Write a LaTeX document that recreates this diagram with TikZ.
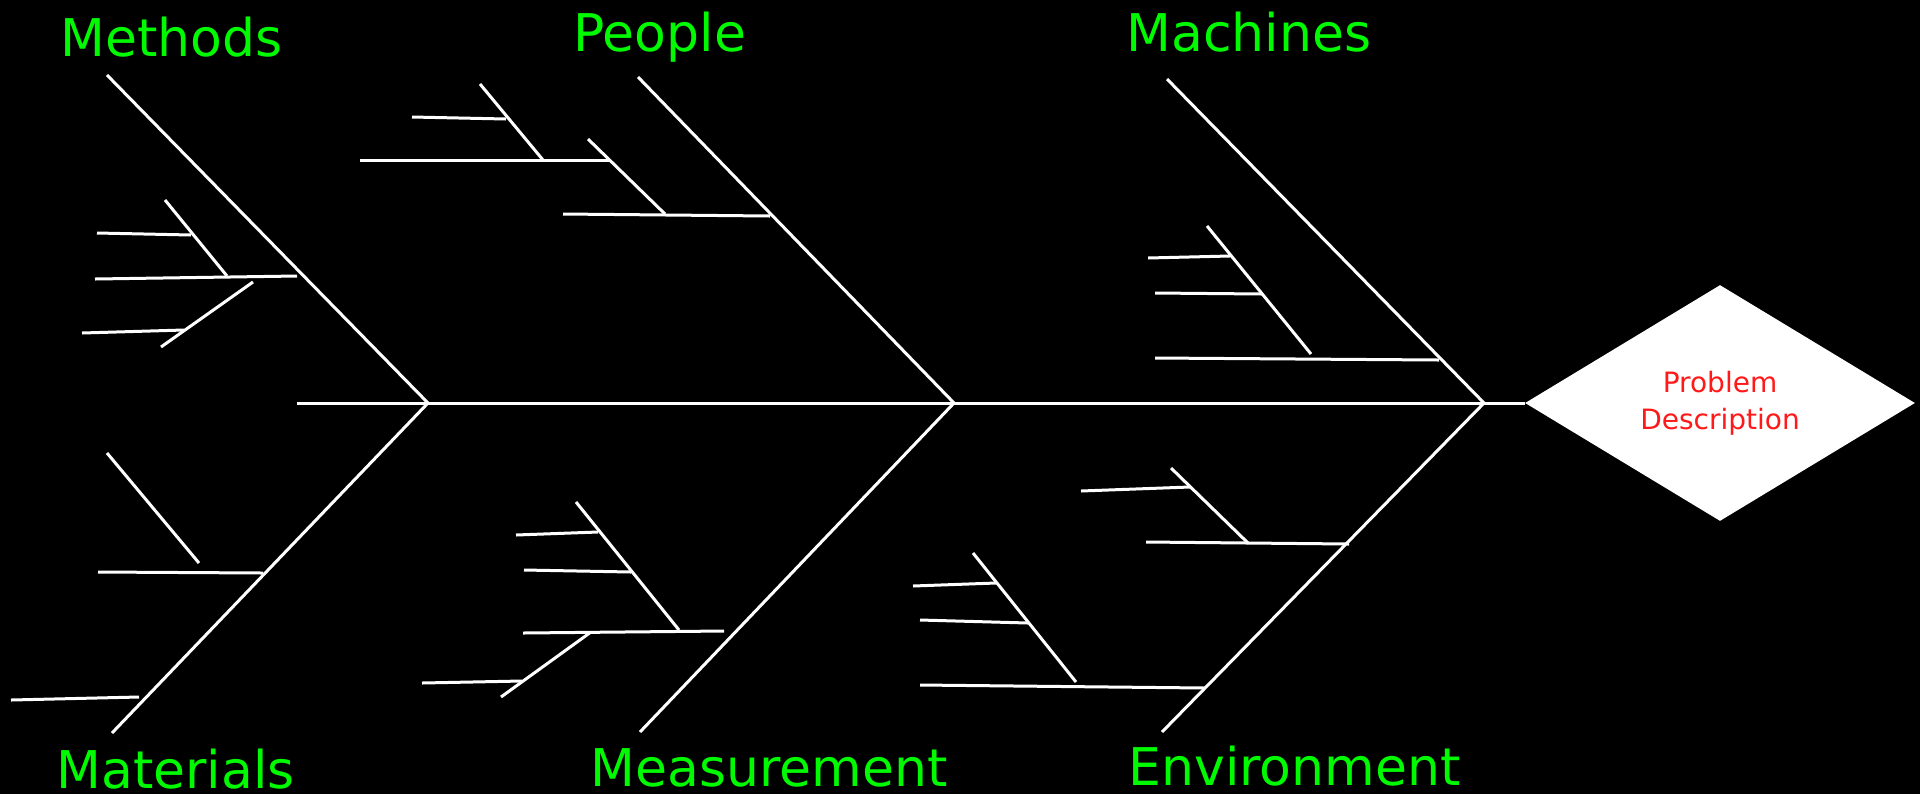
\documentclass[tikz,border=0pt]{standalone}
\usepackage{fontspec}
\setmainfont{DejaVu Sans}
\usetikzlibrary{shapes.geometric}
\definecolor{lbl}{RGB}{0,250,0}
\definecolor{prob}{RGB}{255,25,25}
\begin{document}
\begin{tikzpicture}[x=0.5pt,y=-0.5pt,
  bone/.style={draw=white,line width=1.5pt},
  cat/.style={text=lbl,inner sep=0pt,anchor=base west,font=\fontsize{26}{30}\selectfont}]
\fill[black] (0,0) rectangle (1920,794);
\useasboundingbox (0,0) rectangle (1920,794);

% head
\node[diamond,fill=white,shape aspect=1.65,minimum width=195pt,minimum height=118pt,inner sep=0pt,
  text=prob,align=center,font=\fontsize{14}{18.5}\selectfont] (head) at (1720,403) {Problem\\Description};

% spine and junctions
\coordinate (spL) at (297,403);
\coordinate (J1) at (428,403);
\coordinate (J2) at (954,403);
\coordinate (J3) at (1484,403);
\draw[bone] (spL) -- (J1) -- (J2) -- (J3) -- (head.west);

% main bones
\coordinate (mthT) at (107,75);
\coordinate (pplT) at (638,77);
\coordinate (macT) at (1167,79);
\coordinate (matB) at (112,733);
\coordinate (meaB) at (640,732);
\coordinate (envB) at (1162,732);
\draw[bone] (mthT) -- (J1) -- (matB);
\draw[bone] (pplT) -- (J2) -- (meaB);
\draw[bone] (macT) -- (J3) -- (envB);

% labels
\node[cat] (lMethods) at (60,56) {Methods};
\node[cat] (lPeople) at (573,51) {People};
\node[cat] (lMachines) at (1126,51) {Machines};
\node[cat] (lMaterials) at (56,788) {Materials};
\node[cat] (lMeasurement) at (590,786) {Measurement};
\node[cat] (lEnvironment) at (1128,785) {Environment};

% Methods sub-causes
\coordinate (m1a) at (95,279);   \coordinate (m1b) at (297,276);
\coordinate (m2a) at (165,200);  \coordinate (m2b) at (227,276);
\coordinate (m3a) at (97,233);   \coordinate (m3b) at (191,235);
\coordinate (m4a) at (253,282);  \coordinate (m4b) at (161,347);
\coordinate (m5a) at (82,333);   \coordinate (m5b) at (184,330);
\draw[bone] (m1a) -- (m1b);
\draw[bone] (m2a) -- (m2b);
\draw[bone] (m3a) -- (m3b);
\draw[bone] (m4a) -- (m4b);
\draw[bone] (m5a) -- (m5b);

% People sub-causes
\coordinate (p1a) at (563,214);  \coordinate (p1b) at (770,216);
\coordinate (p2a) at (588,139);  \coordinate (p2b) at (665,214);
\coordinate (p3a) at (360,160);  \coordinate (p3b) at (610,160);
\coordinate (p4a) at (480,84);   \coordinate (p4b) at (543,160);
\coordinate (p5a) at (412,117);  \coordinate (p5b) at (506,119);
\draw[bone] (p1a) -- (p1b);
\draw[bone] (p2a) -- (p2b);
\draw[bone] (p3a) -- (p3b);
\draw[bone] (p4a) -- (p4b);
\draw[bone] (p5a) -- (p5b);

% Machines sub-causes
\coordinate (c1a) at (1155,358); \coordinate (c1b) at (1439,360);
\coordinate (c2a) at (1207,226); \coordinate (c2b) at (1311,354);
\coordinate (c3a) at (1148,258); \coordinate (c3b) at (1230,256);
\coordinate (c4a) at (1155,293); \coordinate (c4b) at (1262,294);
\draw[bone] (c1a) -- (c1b);
\draw[bone] (c2a) -- (c2b);
\draw[bone] (c3a) -- (c3b);
\draw[bone] (c4a) -- (c4b);

% Materials sub-causes
\coordinate (t1a) at (98,572);   \coordinate (t1b) at (263,573);
\coordinate (t2a) at (107,453);  \coordinate (t2b) at (199,563);
\coordinate (t3a) at (11,700);   \coordinate (t3b) at (139,697);
\draw[bone] (t1a) -- (t1b);
\draw[bone] (t2a) -- (t2b);
\draw[bone] (t3a) -- (t3b);

% Measurement sub-causes
\coordinate (s1a) at (523,633);  \coordinate (s1b) at (724,631);
\coordinate (s2a) at (576,502);  \coordinate (s2b) at (679,630);
\coordinate (s3a) at (516,535);  \coordinate (s3b) at (598,532);
\coordinate (s4a) at (524,570);  \coordinate (s4b) at (631,572);
\coordinate (s5a) at (591,632);  \coordinate (s5b) at (501,697);
\coordinate (s6a) at (422,683);  \coordinate (s6b) at (522,681);
\draw[bone] (s1a) -- (s1b);
\draw[bone] (s2a) -- (s2b);
\draw[bone] (s3a) -- (s3b);
\draw[bone] (s4a) -- (s4b);
\draw[bone] (s5a) -- (s5b);
\draw[bone] (s6a) -- (s6b);

% Environment sub-causes
\coordinate (e1a) at (1146,542); \coordinate (e1b) at (1349,544);
\coordinate (e2a) at (1171,468); \coordinate (e2b) at (1248,543);
\coordinate (e3a) at (1081,491); \coordinate (e3b) at (1190,487);
\coordinate (e4a) at (920,685);  \coordinate (e4b) at (1205,688);
\coordinate (e5a) at (973,553);  \coordinate (e5b) at (1076,682);
\coordinate (e6a) at (913,586);  \coordinate (e6b) at (996,583);
\coordinate (e7a) at (920,620);  \coordinate (e7b) at (1028,623);
\draw[bone] (e1a) -- (e1b);
\draw[bone] (e2a) -- (e2b);
\draw[bone] (e3a) -- (e3b);
\draw[bone] (e4a) -- (e4b);
\draw[bone] (e5a) -- (e5b);
\draw[bone] (e6a) -- (e6b);
\draw[bone] (e7a) -- (e7b);
\end{tikzpicture}
\end{document}
